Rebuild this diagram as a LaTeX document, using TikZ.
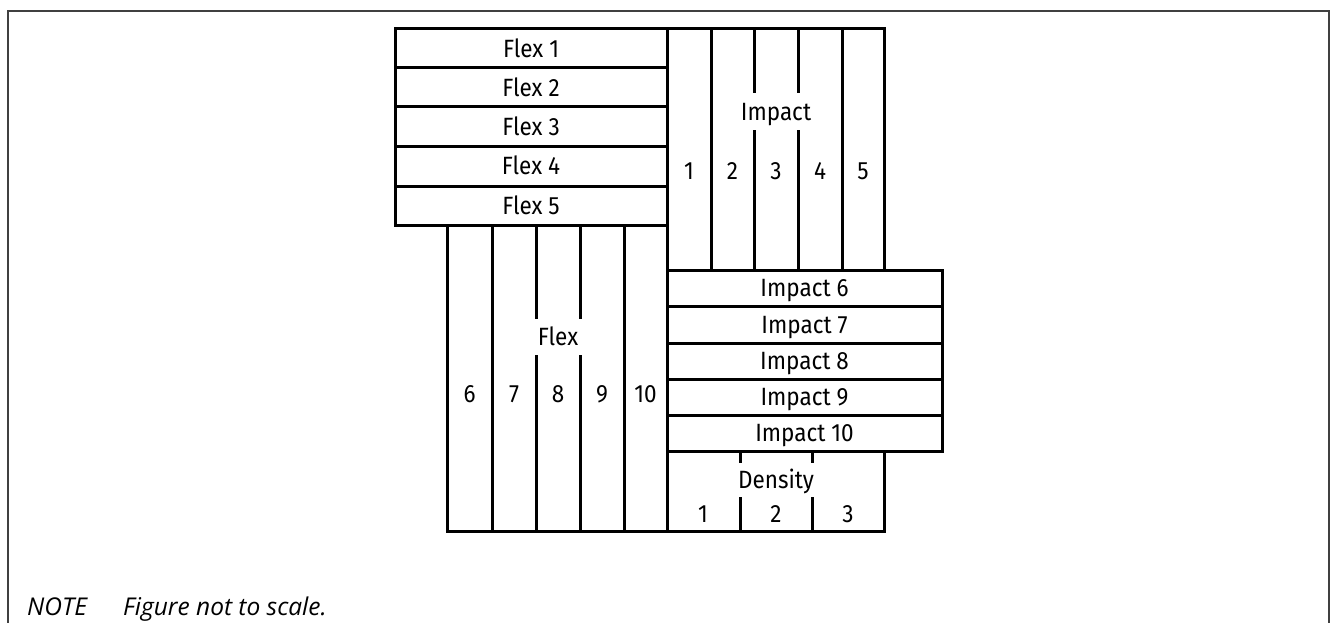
\documentclass[tikz,border=0pt]{standalone}
\usepackage{fontspec}
\setmainfont{Fira Sans}[FakeStretch=0.9]
\newfontfamily\notefont{Open Sans}
\begin{document}
\begin{tikzpicture}[x=1pt,y=-1pt,
  box/.style={line width=3pt},
  lab/.style={font=\fontsize{25}{25}\selectfont, inner sep=0pt, text height=17.5pt, text depth=0pt},
  notelab/.style={font=\notefont\itshape\fontsize{24.5}{24.5}\selectfont, inner sep=0pt, anchor=base west},
  frame/.style={draw=black!75,line width=1.5pt}]
\useasboundingbox (0,0) rectangle (1332,623);
\draw[frame] (8,623) -- (8,11) -- (1329,11) -- (1329,623);
% Flex rows 1-5
\foreach \a/\b [count=\i] in {29/68,68/107,107/146,146/186,186/225}{
  \draw[box] (395,\a) rectangle (667,\b);
  \node[lab] (flex\i) at (531,{(\a+\b)/2}) {Flex \i};
}
% Impact columns 1-5
\draw[box] (667,29) rectangle (884,270);
\draw[box] (711,29) -- (711,270);
\draw[box] (842,29) -- (842,270);
\draw[box] (754,29) -- (754,93) (754,130) -- (754,270);
\draw[box] (798,29) -- (798,93) (798,130) -- (798,270);
\node[lab] (impacthead) at (776,112) {Impact};
\foreach \x/\n in {689/1,732.5/2,776/3,820/4,863/5}{
  \node[lab] (impc\n) at (\x,171) {\n};
}
% Flex columns 6-10
\draw[box] (447,225) rectangle (667,531);
\draw[box] (492,225) -- (492,531);
\draw[box] (624,225) -- (624,531);
\draw[box] (536,225) -- (536,319) (536,355) -- (536,531);
\draw[box] (580,225) -- (580,319) (580,355) -- (580,531);
\node[lab] (flexhead) at (558,337) {Flex};
\foreach \x/\n in {469.5/6,514/7,558/8,602/9,645.5/10}{
  \node[lab] (flexc\n) at (\x,394) {\n};
}
% Impact rows 6-10
\foreach \a/\b/\n in {270/306/6,306/343/7,343/379/8,379/415/9,415/451/10}{
  \draw[box] (667,\a) rectangle (942,\b);
  \node[lab] (imp\n) at (804.5,{(\a+\b)/2}) {Impact \n};
}
% Density
\draw[box] (667,451) rectangle (884,531);
\draw[box] (740,451) -- (740,463) (740,497) -- (740,531);
\draw[box] (812,451) -- (812,463) (812,497) -- (812,531);
\node[lab] (dens) at (776,479.5) {Density};
\foreach \x/\n in {703/1,776/2,848/3}{
  \node[lab] (dens\n) at (\x,514) {\n};
}
% Note
\node[notelab] (note) at (27,615) {NOTE};
\node[notelab] (notetext) at (123,615) {Figure not to scale.};
\end{tikzpicture}
\end{document}
